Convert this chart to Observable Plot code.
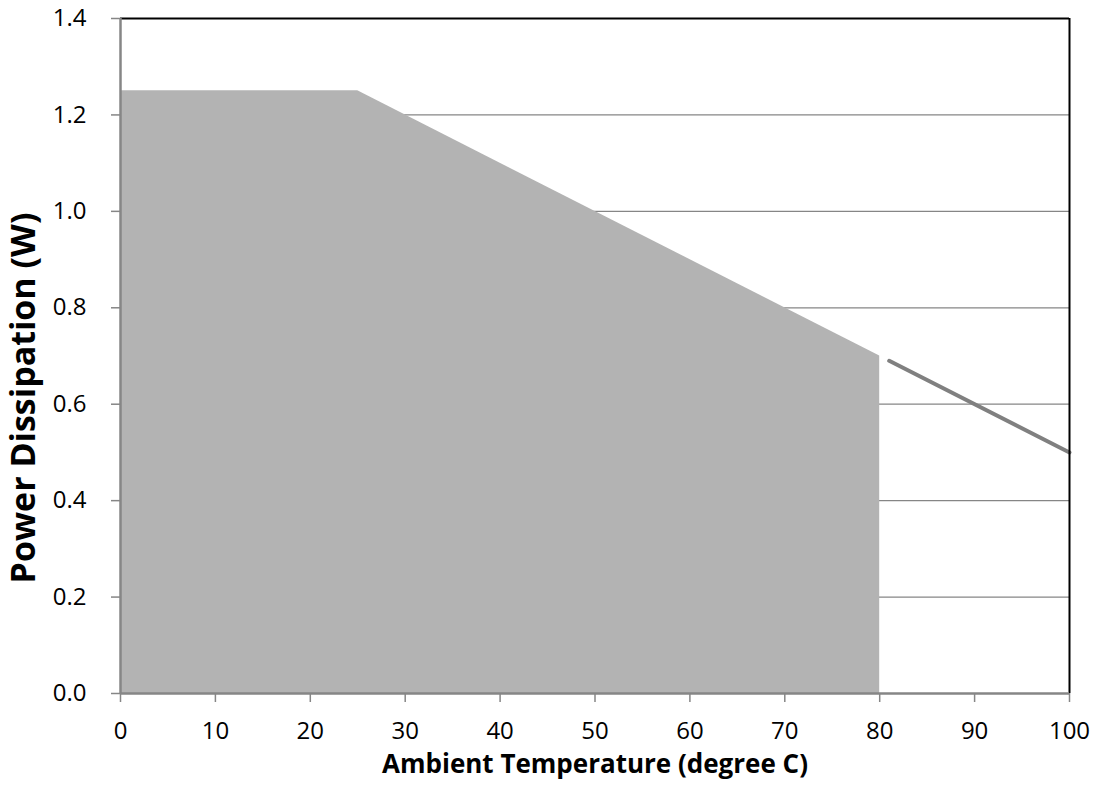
<!DOCTYPE html>
<html>
<head>
<meta charset="utf-8">
<script src="https://cdn.jsdelivr.net/npm/d3@7"></script>
<script src="https://cdn.jsdelivr.net/npm/@observablehq/plot@0.6"></script>
<style>
  html, body { margin: 0; padding: 0; background: #fff; }
  #chart svg { display: block; }
</style>
</head>
<body>
<div id="chart"></div>
<script>
// Safe operating area (filled) and extension line
const fillTemp = [0, 25, 80];
const fillPower = [1.25, 1.25, 0.70];
const lineTemp = [81, 100];
const linePower = [0.69, 0.50];

const xTicks = [0, 10, 20, 30, 40, 50, 60, 70, 80, 90, 100];
const yTicks = [0, 0.2, 0.4, 0.6, 0.8, 1.0, 1.2, 1.4];
const gridTicks = [0.2, 0.4, 0.6, 0.8, 1.0, 1.2];

const xTitle = "Ambient Temperature (degree C)";
const yTitle = "Power Dissipation (W)";

const fillData = fillTemp.map((t, i) => ({t, p: fillPower[i]}));
const lineData = lineTemp.map((t, i) => ({t, p: linePower[i]}));

const chart = Plot.plot({
  width: 1095,
  height: 799,
  marginLeft: 120,
  marginRight: 26,
  marginTop: 18,
  marginBottom: 106,
  style: {fontFamily: "'Open Sans', sans-serif", fontSize: "24px", color: "#000", background: "#fff"},
  x: {domain: [0, 100]},
  y: {domain: [0, 1.4]},
  marks: [
    Plot.gridY(gridTicks, {stroke: "#868686", strokeOpacity: 1, strokeWidth: 1.2}),
    Plot.areaY(fillData, {x: "t", y: "p", fill: "#b3b3b3", curve: "linear"}),
    Plot.line(lineData, {x: "t", y: "p", stroke: "#808080", strokeWidth: 4, strokeLinecap: "round"}),
    Plot.ruleY([1.4], {stroke: "#000", strokeWidth: 2}),
    Plot.ruleX([100], {stroke: "#000", strokeWidth: 2}),
    Plot.ruleY([0], {stroke: "#868686", strokeWidth: 2.5}),
    Plot.ruleX([0], {stroke: "#868686", strokeWidth: 2.5}),
    Plot.axisX({ticks: xTicks, tickSize: 9, tickPadding: 19, fontSize: 24, stroke: "#868686", strokeWidth: 1.5, strokeOpacity: 1, tickFormat: d => String(d), label: null, fill: "#000"}),
    Plot.axisY({ticks: yTicks, tickSize: 9, tickPadding: 25, fontSize: 24, stroke: "#868686", strokeWidth: 1.5, strokeOpacity: 1, tickFormat: d => d.toFixed(1), label: null, fill: "#000"}),
    Plot.text([xTitle], {frameAnchor: "bottom", dy: 79, text: d => d, fontWeight: "bold", fontSize: 26, fill: "#000"}),
    Plot.text([yTitle], {frameAnchor: "left", textAnchor: "middle", dx: -96, dy: 42, rotate: -90, text: d => d, fontWeight: "bold", fontSize: 34, fill: "#000"})
  ]
});
document.getElementById("chart").appendChild(chart);
</script>
</body>
</html>
